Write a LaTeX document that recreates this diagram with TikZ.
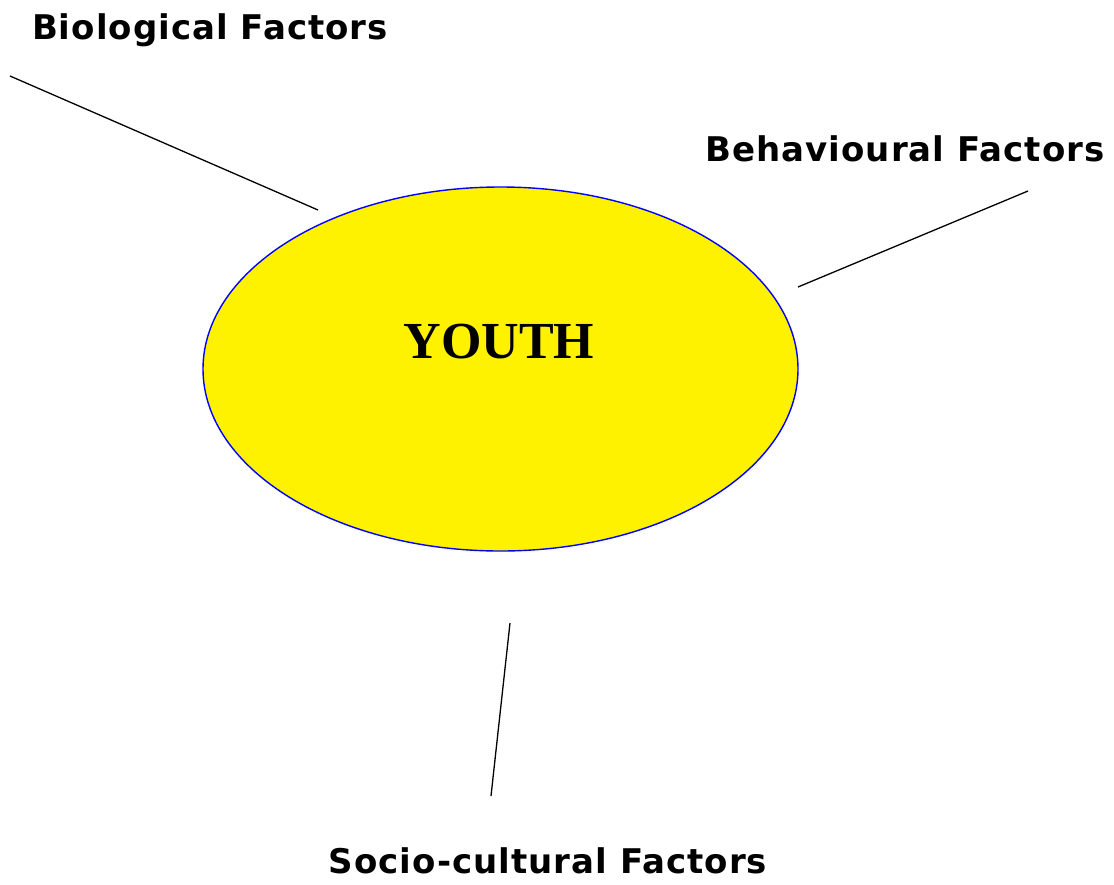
\documentclass[tikz,border=0pt]{standalone}
\usepackage{fontspec}
\setmainfont{Liberation Serif}
\newfontfamily\labelfont[LetterSpace=3]{DejaVu Sans}
\usetikzlibrary{shapes.geometric}
\begin{document}
\begin{tikzpicture}[x=1pt,y=-1pt,
  factor/.style={font=\labelfont\bfseries\fontsize{34}{40}\selectfont, inner sep=0pt, anchor=center},
  link/.style={draw=black, line width=1.3pt}]
\useasboundingbox (0,0) rectangle (1114,884);
\node[ellipse, draw=blue, line width=1.4pt, fill=yellow, minimum width=595pt, minimum height=364pt, inner sep=0pt] (youth) at (500.5,369) {};
\node[font=\bfseries\fontsize{52}{58}\selectfont, inner sep=0pt] (ytext) at (499,342) {YOUTH};
\node[factor] (bio) at (210,30) {Biological Factors};
\node[factor] (beh) at (905,149) {Behavioural Factors};
\node[factor] (soc) at (548,861) {Socio-cultural Factors};
\coordinate (b1) at (10,76);
\coordinate (b2) at (318,210);
\coordinate (h1) at (1028,191);
\coordinate (h2) at (798,287);
\coordinate (s1) at (510,623);
\coordinate (s2) at (491,796);
\draw[link] (b1) -- (b2);
\draw[link] (h1) -- (h2);
\draw[link] (s1) -- (s2);
\end{tikzpicture}
\end{document}
